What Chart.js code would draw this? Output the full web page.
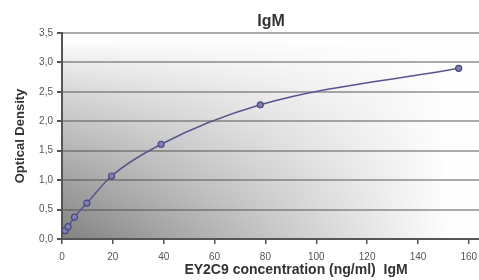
<!DOCTYPE html>
<html lang="en">
<head>
    <meta charset="UTF-8">
    <title>IgM</title>
    <script src="https://cdn.jsdelivr.net/npm/chart.js"></script>
    <style>
        body { margin: 0; background: #fff; }
        #wrap { width: 479px; height: 280px; }
    </style>
</head>
<body>
    <div id="wrap"><canvas id="chart"></canvas></div>
    <script>
        // standard curve points
        const concentrations = [1.2, 2.4, 4.9, 9.8, 19.5, 39, 78, 156];
        const opticalDensity = [0.14, 0.21, 0.37, 0.61, 1.07, 1.61, 2.28, 2.90];
        const xTicks = [0, 20, 40, 60, 80, 100, 120, 140, 160];
        const yTicks = [0, 0.5, 1, 1.5, 2, 2.5, 3, 3.5];

        const chartTitle = 'IgM';
        const xTitle = 'EY2C9 concentration (ng/ml)  IgM';
        const yTitle = 'Optical Density';

        // shaded plot area: dark in the bottom-left corner, white to the top and right
        const plotBackground = {
            id: 'plotBackground',
            beforeDraw(chart) {
                const { ctx, chartArea: a } = chart;
                const w = Math.round(a.right - a.left), h = Math.round(a.bottom - a.top);
                const img = ctx.createImageData(w, h);
                for (let y = 0; y < h; y++) {
                    const t = Math.max(0, (y - 8) / (h - 8));
                    for (let x = 0; x < w; x++) {
                        const s = x / w;
                        const d = Math.max(0, 1 - s * 1.08) * Math.pow(t, 0.85);
                        const v = Math.round(255 - 125 * d);
                        const i = (y * w + x) * 4;
                        img.data[i] = v - 1;
                        img.data[i + 1] = v - 1;
                        img.data[i + 2] = v;
                        img.data[i + 3] = 255;
                    }
                }
                ctx.putImageData(img, Math.round(a.left), Math.round(a.top));
            }
        };

        // titles sit a bit off-centre in the original, so they are placed by hand
        const titles = {
            id: 'titles',
            afterDraw(chart) {
                const ctx = chart.ctx;
                ctx.save();
                ctx.fillStyle = '#333';
                ctx.textAlign = 'center';
                ctx.textBaseline = 'alphabetic';
                ctx.font = 'bold 16px "Liberation Sans"';
                ctx.fillText(chartTitle, 271, 26);
                ctx.font = 'bold 14px "Liberation Sans"';
                ctx.fillText(xTitle, 296, 274);
                ctx.translate(24, 136);
                ctx.rotate(-Math.PI / 2);
                ctx.font = 'bold 13px "Liberation Sans"';
                ctx.fillText(yTitle, 0, 0);
                ctx.restore();
            }
        };

        new Chart(document.getElementById('chart'), {
            type: 'line',
            data: {
                datasets: [{
                    data: concentrations.map((c, i) => ({ x: c, y: opticalDensity[i] })),
                    borderColor: '#56568f',
                    borderWidth: 1.5,
                    backgroundColor: '#8080b0',
                    pointBorderColor: '#48487f',
                    pointStyle: 'circle',
                    pointRadius: 3,
                    pointBorderWidth: 1.2,
                    cubicInterpolationMode: 'monotone',
                    fill: false
                }]
            },
            options: {
                responsive: true,
                maintainAspectRatio: false,
                animation: false,
                layout: { padding: { top: 33, right: 0, bottom: 0, left: 0 }, autoPadding: false },
                plugins: {
                    legend: { display: false },
                    tooltip: { enabled: false },
                    title: { display: false }
                },
                scales: {
                    x: {
                        type: 'linear',
                        min: 0,
                        max: 164,
                        afterBuildTicks: s => { s.ticks = xTicks.map(v => ({ value: v })); },
                        afterFit: s => { s.height = 41; s.paddingRight = 0; s.paddingLeft = 0; },
                        ticks: {
                            color: '#555',
                            font: { family: 'Liberation Sans', size: 10 },
                            maxRotation: 0,
                            padding: 7
                        },
                        grid: { drawOnChartArea: false, drawTicks: true, tickLength: 5, color: '#555', lineWidth: 1.5 },
                        border: { color: '#555', width: 2 }
                    },
                    y: {
                        min: 0,
                        max: 3.5,
                        afterBuildTicks: s => { s.ticks = yTicks.map(v => ({ value: v })); },
                        afterFit: s => { s.width = 62; s.paddingTop = 0; s.paddingBottom = 0; },
                        ticks: {
                            color: '#555',
                            font: { family: 'Liberation Sans', size: 10 },
                            padding: 4,
                            callback: v => v.toFixed(1).replace('.', ',')
                        },
                        grid: { color: 'rgba(70,70,70,0.45)', lineWidth: 2, tickLength: 5, tickColor: '#555' },
                        border: { color: '#555', width: 2 }
                    }
                }
            },
            plugins: [plotBackground, titles]
        });
    </script>
</body>
</html>
